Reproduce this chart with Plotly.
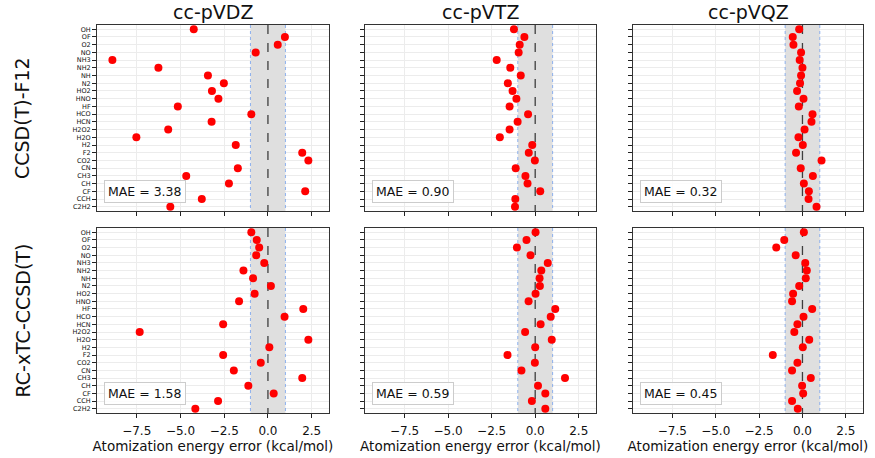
import plotly.graph_objects as go
from plotly.subplots import make_subplots

molecules = ["OH", "OF", "O2", "NO", "NH3", "NH2", "NH", "N2", "HO2", "HNO", "HF", "HCO",
             "HCN", "H2O2", "H2O", "H2", "F2", "CO2", "CN", "CH3", "CH", "CF", "CCH", "C2H2"]
basis_sets = ["cc-pVDZ", "cc-pVTZ", "cc-pVQZ"]
methods = ["CCSD(T)-F12", "RC-xTC-CCSD(T)"]

f12_vdz = [-4.24, 0.97, 0.56, -0.70, -8.89, -6.26, -3.43, -2.52, -3.20, -2.83, -5.15, -0.95,
           -3.22, -5.70, -7.52, -1.84, 1.96, 2.31, -1.72, -4.67, -2.23, 2.13, -3.78, -5.58]
f12_vtz = [-1.22, -0.62, -0.89, -0.95, -2.21, -1.43, -0.83, -1.57, -1.30, -1.08, -1.47, -0.41,
           -1.01, -1.47, -2.03, -0.17, -0.37, -0.02, -1.12, -0.56, -0.44, 0.29, -1.14, -1.16]
f12_vqz = [-0.19, -0.56, -0.52, -0.08, -0.16, 0.00, -0.08, -0.14, -0.31, 0.06, -0.21, 0.58,
           0.52, 0.12, -0.23, 0.02, -0.37, 1.10, -0.10, 0.60, 0.08, 0.37, 0.35, 0.81]
xtc_vdz = [-0.95, -0.64, -0.50, -0.67, -0.21, -1.40, -0.85, 0.17, -0.76, -1.65, 2.02, 0.95,
           -2.56, -7.33, 2.31, 0.08, -2.56, -0.41, -1.95, 1.96, -1.12, 0.33, -2.85, -4.15]
xtc_vtz = [0.02, -0.50, -1.05, -0.27, 0.72, 0.35, 0.25, 0.27, 0.02, -0.38, 1.15, 0.89,
           0.31, -0.58, 0.95, 0.00, -1.59, -0.02, -0.79, 1.71, 0.16, 0.58, -0.19, 0.58]
xtc_vqz = [0.08, -1.05, -1.51, -0.39, 0.16, 0.25, 0.19, -0.19, -0.54, -0.60, 0.56, 0.06,
           -0.29, -0.47, 0.39, 0.02, -1.71, -0.29, -0.60, 0.48, -0.02, 0.04, -0.60, -0.27]
mae_labels = [["3.38", "0.90", "0.32"], ["1.58", "0.59", "0.45"]]

errors = [[f12_vdz, f12_vtz, f12_vqz], [xtc_vdz, xtc_vtz, xtc_vqz]]

W, H = 875, 458
col_px = [(97, 329), (365, 596), (633, 863)]
row_px = [(25, 211), (228, 413)]
xtick_vals = [-7.5, -5.0, -2.5, 0.0, 2.5]
xtick_text = ["\u22127.5", "\u22125.0", "\u22122.5", "0.0", "2.5"]
FONT = "DejaVu Sans"
y_lo, y_hi = -0.55, len(molecules) - 0.45

fig = make_subplots(rows=2, cols=3)
shapes = []
annotations = []
for r in range(2):
    for c in range(3):
        idx = r * 3 + c + 1
        xa = "x" if idx == 1 else f"x{idx}"
        ya = "y" if idx == 1 else f"y{idx}"
        fig.add_trace(go.Scatter(x=errors[r][c], y=molecules, mode="markers",
                                 marker=dict(color="red", size=8, line=dict(width=0)),
                                 showlegend=False, hoverinfo="x+y"), row=r + 1, col=c + 1)
        x0, x1 = col_px[c]
        y0, y1 = row_px[r]
        xkey = "xaxis" if idx == 1 else f"xaxis{idx}"
        ykey = "yaxis" if idx == 1 else f"yaxis{idx}"
        fig.layout[xkey].update(
            domain=[x0 / W, x1 / W], range=[-9.77, 3.49], tickmode="array",
            tickvals=xtick_vals, ticktext=xtick_text, showticklabels=(r == 1),
            ticks="outside", ticklen=4, tickcolor="#222", tickwidth=1, ticklabelstandoff=3,
            showgrid=True, gridcolor="#ececec", gridwidth=1, zeroline=False,
            showline=True, linecolor="#333", linewidth=1, mirror=True,
            tickfont=dict(family=FONT, size=12, color="#111"),
            title=dict(text="Atomization energy error (kcal/mol)" if r == 1 else "",
                       font=dict(family=FONT, size=13.5, color="#111"), standoff=3),
        )
        fig.layout[ykey].update(
            domain=[1 - y1 / H, 1 - y0 / H], type="category", categoryorder="array",
            categoryarray=molecules, range=[y_hi, y_lo],
            tickmode="array", tickvals=molecules, ticktext=molecules,
            showticklabels=(c == 0), ticks="outside", ticklen=4, tickcolor="#222",
            tickwidth=1, showgrid=True, gridcolor="#ececec", gridwidth=1,
            zeroline=False, showline=True, linecolor="#333", linewidth=1, mirror=True,
            tickfont=dict(family=FONT, size=6.5, color="#111"),
        )
        shapes.append(dict(type="rect", xref=xa, yref=ya, x0=-1, x1=1, y0=y_lo, y1=y_hi,
                           fillcolor="rgb(223,223,223)", line=dict(width=0), layer="between"))
        for xv in (-1, 1):
            shapes.append(dict(type="line", xref=xa, yref=ya, x0=xv, x1=xv, y0=y_lo, y1=y_hi,
                               line=dict(color="rgba(100,149,237,0.7)", width=1, dash="dot"),
                               layer="between"))
        shapes.append(dict(type="line", xref=xa, yref=ya, x0=0, x1=0, y0=y_lo, y1=y_hi,
                           line=dict(color="rgba(0,0,0,0.72)", width=1.3, dash="dash"),
                           layer="between"))
        annotations.append(dict(xref=f"{xa} domain", yref=f"{ya} domain",
                                x=7 / (x1 - x0), y=8 / (y1 - y0), xanchor="left", yanchor="bottom",
                                text=f"MAE = {mae_labels[r][c]}", showarrow=False,
                                font=dict(family=FONT, size=12.5, color="#111"),
                                bgcolor="rgba(255,255,255,0.85)", bordercolor="#cccccc",
                                borderwidth=1, borderpad=3))

for c in range(3):
    x0, x1 = col_px[c]
    annotations.append(dict(xref="paper", yref="paper", x=(x0 + x1) / 2 / W, y=1 - 12 / H,
                            xanchor="center", yanchor="middle", text=basis_sets[c],
                            showarrow=False, font=dict(family=FONT, size=19, color="#111")))
for r in range(2):
    y0, y1 = row_px[r]
    annotations.append(dict(xref="paper", yref="paper", x=22 / W, y=1 - (y0 + y1) / 2 / H,
                            xanchor="center", yanchor="middle", text=methods[r], textangle=-90,
                            showarrow=False, font=dict(family=FONT, size=19, color="#111")))

fig.update_layout(width=W, height=H, margin=dict(l=0, r=0, t=0, b=0),
                  paper_bgcolor="white", plot_bgcolor="white",
                  shapes=shapes, annotations=annotations, showlegend=False)
fig.write_html("out.html")
